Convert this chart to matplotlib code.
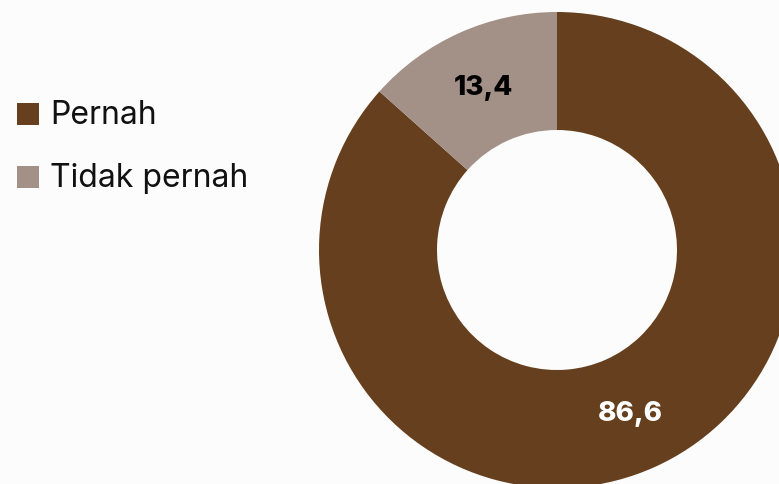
import matplotlib
matplotlib.use("Agg")
import matplotlib.pyplot as plt
import numpy as np
from matplotlib.patches import Rectangle

categories = ["Pernah", "Tidak pernah"]
values = [86.6, 13.4]
labels = ["86,6", "13,4"]
colors = ["#66401E", "#A39187"]
label_colors = ["white", "black"]

W, H = 779, 484
fig = plt.figure(figsize=(W/100, H/100), dpi=100)
fig.patch.set_facecolor("#FCFCFC")
ax = fig.add_axes([0, 0, 1, 1])
ax.set_xlim(0, W)
ax.set_ylim(0, H)
ax.set_aspect("equal")
ax.axis("off")

cx, cy, R, r_in = 557, H - 250, 238, 120
wedges, _ = ax.pie(values, colors=colors, startangle=90, counterclock=False,
                   radius=R, center=(cx, cy), frame=True,
                   wedgeprops=dict(width=R - r_in, linewidth=0))
ax.set_xlim(0, W)
ax.set_ylim(0, H)
ax.axis("off")

rm = (R + r_in) / 2
for w, lab, lc in zip(wedges, labels, label_colors):
    ang = np.deg2rad((w.theta1 + w.theta2) / 2)
    ax.text(cx + rm * np.cos(ang), cy + rm * np.sin(ang) - 1, lab, ha="center", va="center",
            fontsize=20, fontweight="heavy", color=lc, family="Inter")

# legend
for i, (cat, col) in enumerate(zip(categories, colors)):
    yc = H - (114 + i * 63)
    ax.add_patch(Rectangle((17, yc - 11), 22, 22, color=col, linewidth=0))
    ax.text(50, yc - 1, cat, ha="left", va="center", fontsize=23, color="#111111", family="Inter")

fig.savefig("out.png", dpi=100, facecolor=fig.get_facecolor())
